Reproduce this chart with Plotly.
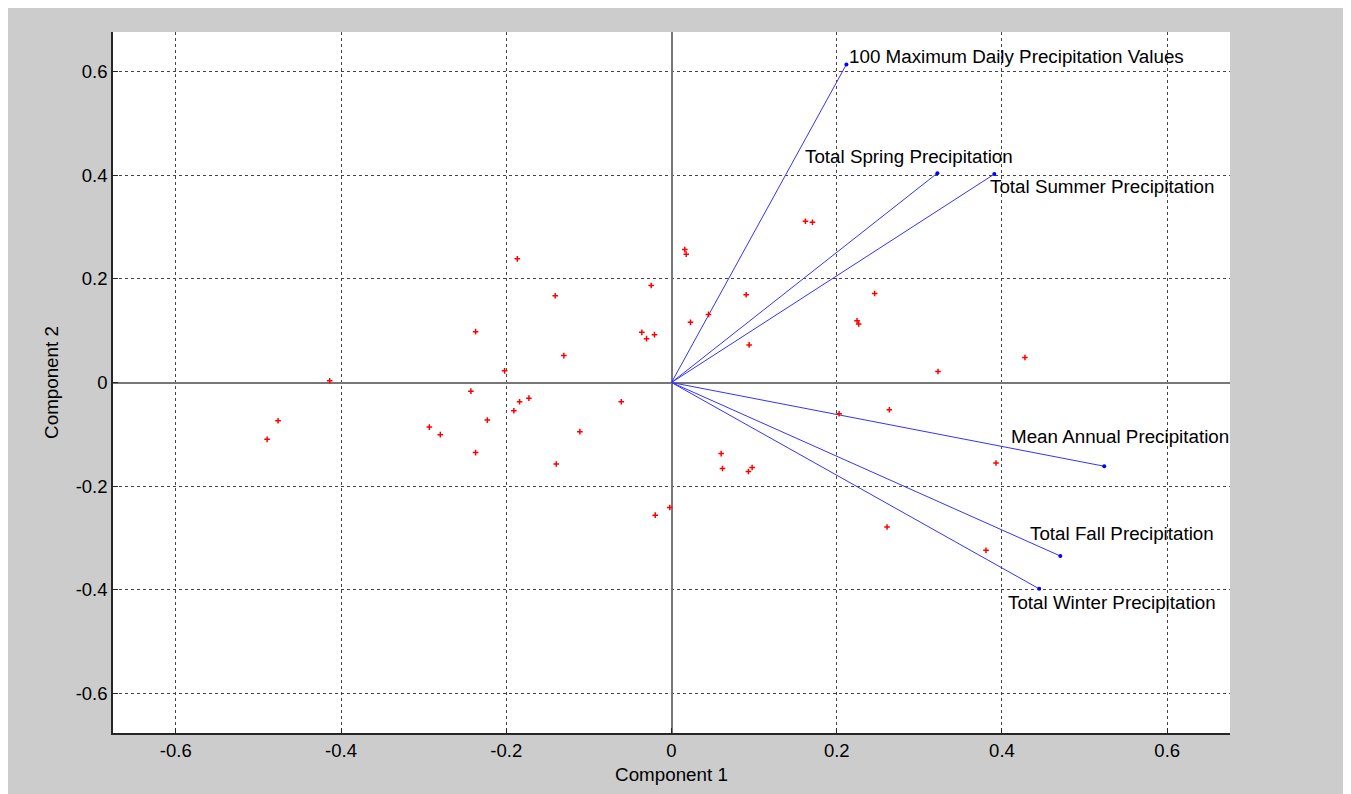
import plotly.graph_objects as go

# Loadings (variable vectors)
var_names = [
    "100 Maximum Daily Precipitation Values",
    "Total Spring Precipitation",
    "Total Summer Precipitation",
    "Mean Annual Precipitation",
    "Total Fall Precipitation",
    "Total Winter Precipitation",
]
load_c1 = [0.2117, 0.3218, 0.3907, 0.5238, 0.4706, 0.4451]
load_c2 = [0.6135, 0.4038, 0.4019, -0.1615, -0.3346, -0.3980]

# label anchor positions (data coords)
label_x = [0.2153, 0.1621, 0.3859, 0.4113, 0.4343, 0.4076]
label_y = [0.6288, 0.4365, 0.3788, -0.1038, -0.2904, -0.4250]

# Scores (observations)
score_c1 = [-0.4895, -0.4762, -0.4137, -0.2931, -0.2798, -0.2428, -0.2371, -0.2371,
            -0.2229, -0.2020, -0.1908, -0.1866, -0.1839, -0.1726, -0.1407, -0.1395,
            -0.1303, -0.1109, -0.0608, -0.0359, -0.0302, -0.0246, -0.0206, -0.0197,
            -0.0021, 0.0161, 0.0178, 0.0230, 0.0448, 0.0601, 0.0617, 0.0904,
            0.0931, 0.0940, 0.0976, 0.1621, 0.1706, 0.2029, 0.2246, 0.2266,
            0.2459, 0.2609, 0.2637, 0.3226, 0.3807, 0.3928, 0.4278]
score_c2 = [-0.1096, -0.0737, 0.0033, -0.0860, -0.1006, -0.0167, 0.0981, -0.1352,
            -0.0725, 0.0225, -0.0544, 0.2385, -0.0371, -0.0302, 0.1673, -0.1571,
            0.0519, -0.0948, -0.0371, 0.0967, 0.0846, 0.1871, 0.0923, -0.2558,
            -0.2410, 0.2563, 0.2475, 0.1160, 0.1313, -0.1371, -0.1660, 0.1692,
            -0.1717, 0.0725, -0.1640, 0.3110, 0.3090, -0.0602, 0.1192, 0.1129,
            0.1717, -0.2788, -0.0525, 0.0212, -0.3237, -0.1552, 0.0481]

tick_vals = [-0.6, -0.4, -0.2, 0, 0.2, 0.4, 0.6]
tick_text = ["-0.6", "-0.4", "-0.2", "0", "0.2", "0.4", "0.6"]
lim = 0.676

FONT = "Liberation Sans, Arial"

fig = go.Figure()

for i, name in enumerate(var_names):
    fig.add_trace(go.Scatter(
        x=[0, load_c1[i]], y=[0, load_c2[i]], mode="lines",
        line=dict(color="#3333ff", width=1), showlegend=False, hoverinfo="skip"))

fig.add_trace(go.Scatter(
    x=load_c1, y=load_c2, mode="markers",
    marker=dict(color="#0000ff", size=4), showlegend=False, text=var_names))

fig.add_trace(go.Scatter(
    x=score_c1, y=score_c2, mode="markers",
    marker=dict(color="#ff0000", size=4, symbol="cross-thin",
                line=dict(color="#ff0000", width=1.5)),
    showlegend=False))

for i, name in enumerate(var_names):
    fig.add_annotation(x=label_x[i], y=label_y[i], text=name, showarrow=False,
                       xanchor="left", yanchor="middle", xshift=-2,
                       font=dict(family=FONT, size=18.8, color="black"))

axis_common = dict(
    tickvals=tick_vals, ticktext=tick_text, range=[-lim, lim],
    showgrid=True, gridcolor="#444444", griddash="dot", gridwidth=1,
    zeroline=True, zerolinecolor="#777777", zerolinewidth=1.5,
    showline=True, linecolor="#262626", linewidth=1.5, mirror=False,
    ticks="inside", ticklen=5, tickcolor="#262626",
    tickfont=dict(family=FONT, size=18.5, color="black"),
)

fig.update_layout(
    width=1337, height=786,
    paper_bgcolor="#cccccc", plot_bgcolor="white",
    margin=dict(l=105, r=115, t=24, b=59),
    font=dict(family=FONT, size=18.5, color="black"),
    xaxis=dict(**axis_common, title=dict(text="Component 1", standoff=8,
               font=dict(family=FONT, size=18.8, color="black"))),
    yaxis=dict(**axis_common, title=dict(text="Component 2", standoff=12,
               font=dict(family=FONT, size=18.8, color="black"))),
)

fig.write_html("out.html")
